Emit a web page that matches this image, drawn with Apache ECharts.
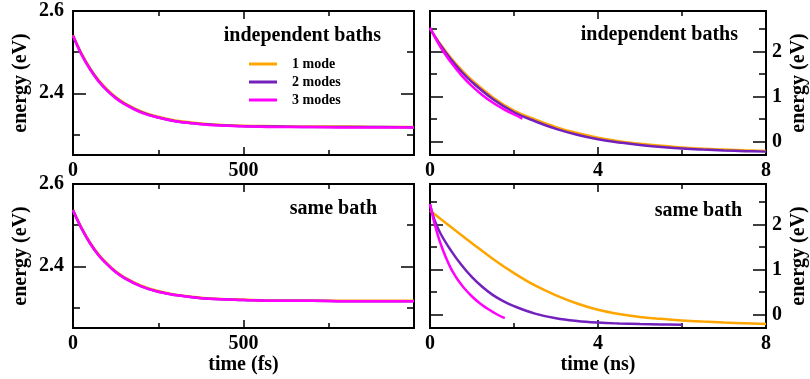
<!DOCTYPE html>
<html>
<head>
<meta charset="utf-8">
<script src="https://cdn.jsdelivr.net/npm/echarts@6/dist/echarts.min.js"></script>
<style>
  html, body { margin: 0; padding: 0; background: #fff; }
  #chart { width: 810px; height: 379px; }
</style>
</head>
<body>
<div id="chart"></div>
<script>
// 左侧：fs 时间尺度
var fsTime = [0, 25, 50, 75, 100, 125, 150, 200, 250, 300, 350, 400, 500, 600, 700, 800, 900, 1000];
var indepFs1 = [2.541, 2.497, 2.461, 2.432, 2.410, 2.391, 2.377, 2.356, 2.343, 2.334, 2.329, 2.325, 2.321, 2.320, 2.319, 2.319, 2.318, 2.318];
var indepFs2 = [2.540, 2.495, 2.459, 2.430, 2.407, 2.389, 2.375, 2.354, 2.341, 2.332, 2.327, 2.324, 2.320, 2.319, 2.318, 2.318, 2.318, 2.317];
var indepFs3 = [2.540, 2.494, 2.458, 2.429, 2.407, 2.388, 2.374, 2.353, 2.341, 2.332, 2.327, 2.323, 2.320, 2.318, 2.318, 2.317, 2.317, 2.317];
var sameFs1 = [2.537, 2.494, 2.458, 2.429, 2.407, 2.388, 2.374, 2.353, 2.340, 2.331, 2.326, 2.322, 2.319, 2.317, 2.317, 2.316, 2.316, 2.316];
var sameFs2 = [2.536, 2.492, 2.456, 2.427, 2.405, 2.386, 2.372, 2.351, 2.338, 2.330, 2.325, 2.321, 2.318, 2.316, 2.316, 2.315, 2.315, 2.315];
var sameFs3 = [2.536, 2.492, 2.456, 2.427, 2.405, 2.386, 2.372, 2.351, 2.338, 2.330, 2.325, 2.321, 2.318, 2.316, 2.316, 2.315, 2.315, 2.315];

// 右侧：ns 时间尺度
var indepNsTime = [0, 0.25, 0.5, 0.75, 1, 1.5, 2, 2.5, 3, 3.5, 4, 4.5, 5, 5.5, 6, 6.5, 7, 7.5, 8];
var indepNs1 = [2.51, 2.16, 1.855, 1.59, 1.36, 0.98, 0.686, 0.49, 0.32, 0.187, 0.086, 0.008, -0.051, -0.097, -0.132, -0.16, -0.18, -0.197, -0.209];
var indepNs2 = [2.51, 2.14, 1.82, 1.55, 1.32, 0.94, 0.65, 0.45, 0.28, 0.15, 0.05, -0.02, -0.08, -0.12, -0.155, -0.18, -0.2, -0.215, -0.225];
var indepNs3Time = [0, 0.25, 0.5, 0.75, 1, 1.25, 1.5, 1.75, 2, 2.2];
var indepNs3 = [2.53, 2.1, 1.76, 1.47, 1.23, 1.03, 0.86, 0.72, 0.6, 0.51];

var sameNs1Time = [0, 0.5, 1, 1.5, 2, 2.5, 3, 3.5, 4, 4.5, 5, 5.5, 6, 6.5, 7, 7.5, 8];
var sameNs1 = [2.31, 1.945, 1.585, 1.235, 0.92, 0.645, 0.425, 0.245, 0.105, 0.01, -0.055, -0.097, -0.132, -0.158, -0.179, -0.196, -0.21];
var sameNs2Time = [0, 0.1, 0.25, 0.5, 0.75, 1, 1.25, 1.5, 1.75, 2, 2.5, 3, 3.5, 4, 4.5, 5, 5.5, 6];
var sameNs2 = [2.45, 2.12, 1.8, 1.42, 1.1, 0.83, 0.61, 0.43, 0.295, 0.185, 0.02, -0.085, -0.145, -0.18, -0.2, -0.213, -0.222, -0.228];
var sameNs3Time = [0, 0.1, 0.2, 0.3, 0.4, 0.5, 0.6, 0.7, 0.8, 1, 1.2, 1.4, 1.6, 1.78];
var sameNs3 = [2.45, 2.05, 1.72, 1.45, 1.22, 1.02, 0.86, 0.72, 0.6, 0.4, 0.24, 0.11, 0.0, -0.08];

// 刻度
var fsMajor = [0, 500, 1000];
var fsMinor = [250, 750];
var fsLabels = [0, 500];
var nsMajor = [0, 4, 8];
var nsMinor = [2, 6];
var nsLabels = [0, 4, 8];
var eFsMajor = [2.4, 2.6];
var eFsMinor = [2.3, 2.5];
var eNsMajor = [0, 1, 2];
var eNsMinor = [-0.5, 0.5, 1.5, 2.5];

var names = ['1 mode', '2 modes', '3 modes'];
var colors = ['#ffa500', '#7221bc', '#ff00ff'];
var FONT = 'Liberation Serif';

var grids = [
  { left: 73, top: 11, width: 341, height: 144 },
  { left: 430, top: 11, width: 340, height: 144 },
  { left: 73, top: 184, width: 341, height: 144 },
  { left: 430, top: 184, width: 340, height: 144 }
];

function axis(g, pos, min, max, ticks, len, labels, extra) {
  var a = {
    type: 'value', gridIndex: g, position: pos, min: min, max: max,
    axisLine: { show: false, onZero: false },
    splitLine: { show: false },
    axisTick: { show: true, inside: true, length: len, customValues: ticks,
      lineStyle: { color: '#000', width: 1.5 } },
    axisLabel: labels ? {
      show: true, customValues: labels, color: '#000',
      fontFamily: FONT, fontWeight: 'bold', fontSize: 20,
      margin: (pos === 'left' ? 9 : (pos === 'right' ? 6 : 6))
    } : { show: false },
    nameTextStyle: { color: '#000', fontFamily: FONT, fontWeight: 'bold', fontSize: 20 }
  };
  return Object.assign(a, extra || {});
}

var xAxes = [];
var yAxes = [];
// 每个面板4根x轴、4根y轴：主刻度/次刻度 × 两侧
function panel(g, xr, xMaj, xMin, xLab, yr, yMaj, yMin, yRight, xName) {
  var xExtra = xName ? { name: xName, nameLocation: 'middle', nameGap: 27 } : {};
  xAxes.push(axis(g, 'bottom', xr[0], xr[1], xMaj, 8, xLab, xExtra));
  xAxes.push(axis(g, 'bottom', xr[0], xr[1], xMin, 5, null));
  xAxes.push(axis(g, 'top', xr[0], xr[1], xMaj, 8, null));
  xAxes.push(axis(g, 'top', xr[0], xr[1], xMin, 5, null));
  var main = yRight ? 'right' : 'left';
  var other = yRight ? 'left' : 'right';
  var yExtra = { name: 'energy (eV)', nameLocation: 'middle', nameRotate: 90, nameGap: yRight ? 23 : 42 };
  yAxes.push(axis(g, main, yr[0], yr[1], yMaj, 13, yMaj, yExtra));
  yAxes.push(axis(g, main, yr[0], yr[1], yMin, 7, null));
  yAxes.push(axis(g, other, yr[0], yr[1], yMaj, 13, null));
  yAxes.push(axis(g, other, yr[0], yr[1], yMin, 7, null));
}

panel(0, [0, 1000], fsMajor, fsMinor, fsLabels, [2.25, 2.6], eFsMajor, eFsMinor, false, null);
panel(1, [0, 8], nsMajor, nsMinor, nsLabels, [-0.3, 2.9], eNsMajor, eNsMinor, true, null);
panel(2, [0, 1000], fsMajor, fsMinor, fsLabels, [2.25, 2.6], eFsMajor, eFsMinor, false, 'time (fs)');
panel(3, [0, 8], nsMajor, nsMinor, nsLabels, [-0.3, 2.9], eNsMajor, eNsMinor, true, 'time (ns)');

function pairs(xs, ys) {
  return xs.map(function (x, i) { return [x, ys[i]]; });
}

var series = [];
function addLine(g, k, xs, ys) {
  series.push({
    name: names[k], type: 'line', xAxisIndex: g * 4, yAxisIndex: g * 4,
    data: pairs(xs, ys), symbol: 'none', showSymbol: false, smooth: 0.4,
    lineStyle: { color: colors[k], width: 2.5 }, itemStyle: { color: colors[k] },
    z: 2 + k
  });
}
addLine(0, 0, fsTime, indepFs1);
addLine(0, 1, fsTime, indepFs2);
addLine(0, 2, fsTime, indepFs3);
addLine(1, 0, indepNsTime, indepNs1);
addLine(1, 1, indepNsTime, indepNs2);
addLine(1, 2, indepNs3Time, indepNs3);
addLine(2, 0, fsTime, sameFs1);
addLine(2, 1, fsTime, sameFs2);
addLine(2, 2, fsTime, sameFs3);
addLine(3, 0, sameNs1Time, sameNs1);
addLine(3, 1, sameNs2Time, sameNs2);
addLine(3, 2, sameNs3Time, sameNs3);

var titleStyle = { color: '#000', fontFamily: FONT, fontWeight: 'bold', fontSize: 20 };

var chart = echarts.init(document.getElementById('chart'), null, { renderer: 'canvas' });
chart.setOption({
  animation: false,
  backgroundColor: '#fff',
  title: [
    { text: 'independent baths', right: 429, top: 26, padding: 0, textStyle: titleStyle },
    { text: 'independent baths', right: 72, top: 25, padding: 0, textStyle: titleStyle },
    { text: 'same bath', right: 433, top: 199, padding: 0, textStyle: titleStyle },
    { text: 'same bath', right: 68, top: 201, padding: 0, textStyle: titleStyle }
  ],
  legend: {
    data: names, orient: 'vertical', left: 249, top: 57, padding: 0,
    icon: 'rect', itemWidth: 28, itemHeight: 3, itemGap: 4,
    textStyle: { color: '#000', fontFamily: FONT, fontWeight: 'bold', fontSize: 14, padding: [0, 0, 0, 10] }
  },
  grid: grids.map(function (g) {
    return Object.assign({ show: true, borderColor: '#000', borderWidth: 2, containLabel: false }, g);
  }),
  xAxis: xAxes,
  yAxis: yAxes,
  series: series
});
</script>
</body>
</html>
